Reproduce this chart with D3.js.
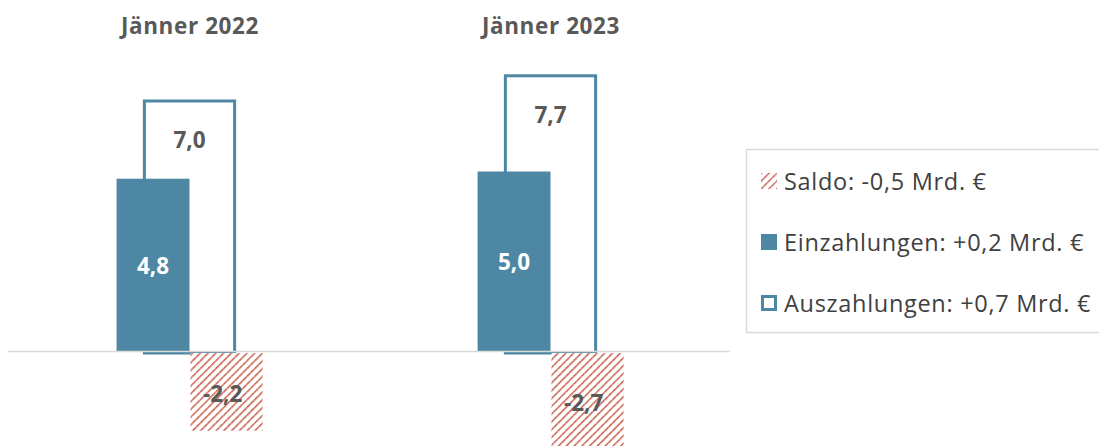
<!DOCTYPE html>
<html>
<head>
<meta charset="utf-8">
<script src="https://cdn.jsdelivr.net/npm/d3@7"></script>
<style>
  html, body { margin: 0; padding: 0; background: #fff; }
  svg { display: block; }
</style>
</head>
<body>
<svg id="chart" width="1099" height="446"></svg>
<script>
const categories = ["Jänner 2022", "Jänner 2023"];
const einzahlungen = [4.8, 5.0];
const auszahlungen = [7.0, 7.7];
const saldo = [-2.2, -2.7];
const legendLabels = ["Saldo: -0,5 Mrd. €", "Einzahlungen: +0,2 Mrd. €", "Auszahlungen: +0,7 Mrd. €"];

const fmt = v => d3.format(".1f")(v).replace(".", ",").replace("−", "-");

const BLUE = "#4d87a3";
const RED = "#c4503c";
const GREY_TXT = "#595959";
const FONT = "'Open Sans', Carlito, Calibri, sans-serif";

const svg = d3.select("#chart");

const defs = svg.append("defs");
function hatch(id, w) {
  const p = defs.append("pattern")
    .attr("id", id)
    .attr("patternUnits", "userSpaceOnUse")
    .attr("width", 5.5).attr("height", 5.5)
    .attr("patternTransform", "rotate(45)");
  p.append("rect").attr("width", 5.5).attr("height", 5.5).attr("fill", "#fff");
  p.append("line").attr("x1", 0).attr("y1", 0).attr("x2", 0).attr("y2", 5.5)
    .attr("stroke", RED).attr("stroke-width", w).attr("stroke-dasharray", "1.5,0.4");
}
hatch("hatch", 3.2);
hatch("hatchLeg", 3);

const x = d3.scaleBand().domain(categories).range([9, 731]).padding(0);
const y = d3.scaleLinear().domain([-2.75, 9.75]).range([450.5, 0.5]);
const bw = x.bandwidth();
const einzW = bw * 0.202;
const auszHalf = bw * 0.125;
const saldoW = bw * 0.2;
const cx = c => x(c) + bw / 2;

const g = svg.append("g");

// Auszahlungen (outlined boxes)
g.selectAll("rect.ausz").data(categories).join("rect")
  .attr("class", "ausz")
  .attr("x", c => cx(c) - auszHalf)
  .attr("width", auszHalf * 2)
  .attr("y", (c, i) => y(auszahlungen[i]) + 1.5)
  .attr("height", (c, i) => y(0) - y(auszahlungen[i]))
  .attr("fill", "#fff")
  .attr("stroke", BLUE)
  .attr("stroke-width", 3);

// Einzahlungen (filled)
g.selectAll("rect.einz").data(categories).join("rect")
  .attr("class", "einz")
  .attr("x", c => cx(c) - einzW)
  .attr("width", einzW)
  .attr("y", (c, i) => y(einzahlungen[i]))
  .attr("height", (c, i) => y(0) - y(einzahlungen[i]))
  .attr("fill", BLUE);

// baseline
g.append("line")
  .attr("x1", x.range()[0] - 1).attr("x2", x.range()[1] - 1)
  .attr("y1", y(0)).attr("y2", y(0))
  .attr("stroke", "#d9d9d9").attr("stroke-width", 1.5);

// Saldo (hatched)
g.selectAll("rect.saldo").data(categories).join("rect")
  .attr("class", "saldo")
  .attr("x", c => cx(c) + 1)
  .attr("width", saldoW)
  .attr("y", y(0) + 1.5)
  .attr("height", (c, i) => y(saldo[i]) - y(0) - 1.5)
  .attr("fill", "url(#hatch)");

// Titles
g.selectAll("text.title").data(categories).join("text")
  .attr("class", "title")
  .attr("x", c => cx(c) + 0.5)
  .attr("y", 33.5)
  .attr("text-anchor", "middle")
  .attr("font-family", FONT).attr("font-weight", "bold")
  .attr("font-size", 22.5)
  .attr("letter-spacing", 0.6)
  .attr("fill", GREY_TXT)
  .text(c => c);

// Value labels
const lab = (sel) => sel.attr("text-anchor", "middle")
  .attr("dominant-baseline", "central")
  .attr("font-family", FONT).attr("font-weight", "bold")
  .attr("font-size", 22.5);

g.selectAll("text.lausz").data(categories).join("text")
  .attr("class", "lausz").call(lab)
  .attr("x", c => cx(c))
  .attr("y", (c, i) => y(auszahlungen[i]) + 40)
  .attr("fill", GREY_TXT)
  .text((c, i) => fmt(auszahlungen[i]));

g.selectAll("text.leinz").data(categories).join("text")
  .attr("class", "leinz").call(lab)
  .attr("x", c => cx(c) - einzW / 2)
  .attr("y", (c, i) => (y(einzahlungen[i]) + y(0)) / 2)
  .attr("fill", "#fff")
  .text((c, i) => fmt(einzahlungen[i]));

g.selectAll("text.lsaldo").data(categories).join("text")
  .attr("class", "lsaldo").call(lab)
  .attr("x", c => cx(c) + 1 + saldoW / 2 - 4)
  .attr("y", (c, i) => (y(saldo[i]) + y(0)) / 2 + 2)
  .attr("fill", GREY_TXT)
  .text((c, i) => fmt(saldo[i]));

// Legend
const lg = svg.append("g");
lg.append("rect")
  .attr("x", 746.5).attr("y", 149.5)
  .attr("width", 360).attr("height", 183)
  .attr("fill", "#fff").attr("stroke", "#d9d9d9").attr("stroke-width", 1.5);

const rowY = [181, 242, 303];
const icon = 16;

lg.append("rect").attr("x", 761).attr("y", rowY[0] - icon / 2)
  .attr("width", icon).attr("height", icon).attr("fill", "url(#hatchLeg)");
lg.append("rect").attr("x", 761).attr("y", rowY[1] - icon / 2)
  .attr("width", icon).attr("height", icon).attr("fill", BLUE);
lg.append("rect").attr("x", 762.5).attr("y", rowY[2] - icon / 2 + 1.5)
  .attr("width", icon - 3).attr("height", icon - 3)
  .attr("fill", "#fff").attr("stroke", BLUE).attr("stroke-width", 3);

lg.selectAll("text.leg").data(legendLabels).join("text")
  .attr("class", "leg")
  .attr("x", 784)
  .attr("y", (d, i) => rowY[i] + 8.5)
  .attr("font-family", FONT)
  .attr("font-size", 23.5)
  .attr("letter-spacing", 0.7)
  .attr("fill", "#404040")
  .text(d => d);
</script>
</body>
</html>
